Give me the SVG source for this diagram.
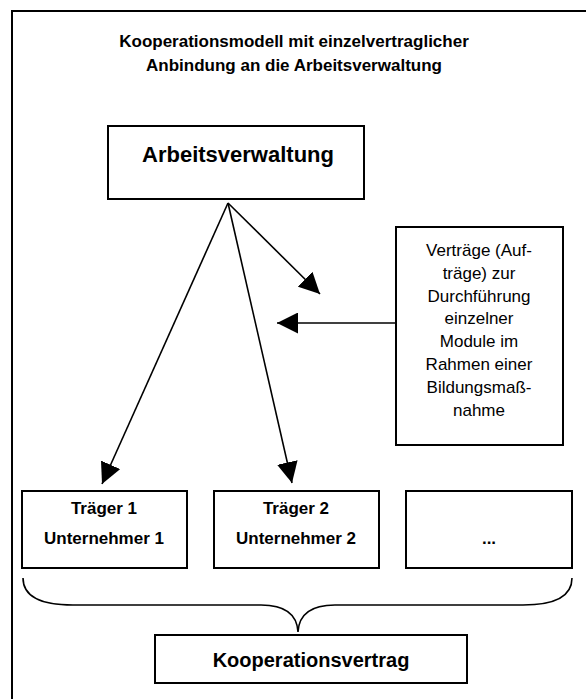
<svg xmlns="http://www.w3.org/2000/svg" width="586" height="699" viewBox="0 0 586 699">
<defs>
<style>
.box{fill:#fff;stroke:#000;stroke-width:2}
.t{font-family:"Liberation Sans",Arial,sans-serif;fill:#000;text-anchor:middle}
.b{font-weight:bold}
.ln{stroke:#000;stroke-width:1.6;fill:none}
</style>
<marker id="ah" markerUnits="userSpaceOnUse" markerWidth="21" markerHeight="21" refX="20" refY="10" orient="auto" viewBox="0 0 20 20">
<path d="M0,0 L20,10 L0,20 Z" fill="#000"/>
</marker>
</defs>
<rect width="586" height="699" fill="#fff"/>
<path d="M12,699 V11 H586" fill="none" stroke="#000" stroke-width="2"/>
<g id="title">
<text class="t b" x="294" y="47" font-size="17">Kooperationsmodell mit einzelvertraglicher</text>
<text class="t b" x="294" y="71" font-size="17">Anbindung an die Arbeitsverwaltung</text>
</g>
<g id="arbeitsverwaltung">
<rect class="box" x="108" y="126" width="256" height="73"/>
<text class="t b" x="238" y="162" font-size="22">Arbeitsverwaltung</text>
</g>
<g id="vertraege">
<rect class="box" x="396" y="227" width="167" height="218"/>
<g class="t" font-size="17">
<text x="479" y="256">Verträge (Auf-</text>
<text x="479" y="279">träge) zur</text>
<text x="479" y="302">Durchführung</text>
<text x="479" y="324">einzelner</text>
<text x="479" y="347">Module im</text>
<text x="479" y="370">Rahmen einer</text>
<text x="479" y="393">Bildungsmaß-</text>
<text x="479" y="416">nahme</text>
</g>
</g>
<g id="traeger1">
<rect class="box" x="22" y="491" width="165" height="77"/>
<text class="t b" x="104" y="514" font-size="17">Träger 1</text>
<text class="t b" x="104" y="544" font-size="17">Unternehmer 1</text>
</g>
<g id="traeger2">
<rect class="box" x="214" y="491" width="165" height="77"/>
<text class="t b" x="296" y="514" font-size="17">Träger 2</text>
<text class="t b" x="296" y="544" font-size="17">Unternehmer 2</text>
</g>
<g id="weitere">
<rect class="box" x="406" y="491" width="166" height="77"/>
<text class="t b" x="489" y="544" font-size="17">...</text>
</g>
<g id="kooperationsvertrag">
<rect class="box" x="155" y="635" width="312" height="48"/>
<text class="t b" x="311" y="667" font-size="20">Kooperationsvertrag</text>
</g>
<g id="connectors">
<line class="ln" x1="228" y1="203" x2="102" y2="484" marker-end="url(#ah)"/>
<line class="ln" x1="228" y1="203" x2="292" y2="483" marker-end="url(#ah)"/>
<line class="ln" x1="228" y1="203" x2="320" y2="294" marker-end="url(#ah)"/>
<line class="ln" x1="396" y1="323" x2="277" y2="323" marker-end="url(#ah)"/>
<path class="ln" d="M23,578 C23,596 40,605 73,605 L261,605 C284,605 297,614 298,632 C299,614 312,605 335,605 L523,605 C556,605 572,596 572,578"/>
</g>
</svg>
